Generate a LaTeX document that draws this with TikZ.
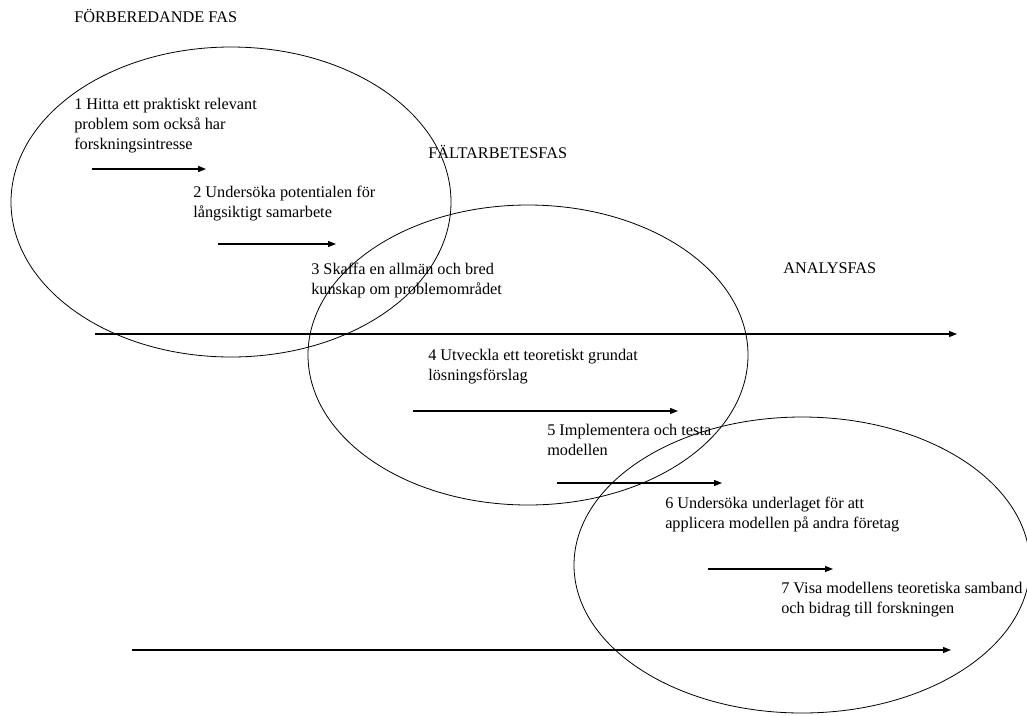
\documentclass[tikz,border=0pt]{standalone}
\usepackage{fontspec}
\setmainfont{Liberation Serif}
\usetikzlibrary{arrows.meta}
\begin{document}
\begin{tikzpicture}[x=0.75pt,y=-0.75pt,
  phase/.style={draw=black, line width=0.6pt},
  lbl/.style={anchor=base west, inner sep=0pt, align=left, font=\fontsize{12.2}{15}\selectfont},
  flow/.style={line width=0.9pt, -{Triangle[length=6pt,width=4.5pt]}}]
\useasboundingbox (0,0) rectangle (1027,715);
% phases
\draw[phase] (231,202) ellipse [x radius=220, y radius=155];
\draw[phase] (528,355) ellipse [x radius=220, y radius=150];
\draw[phase] (802,565) ellipse [x radius=228, y radius=148];
% titles
\node[lbl] (t1) at (74,22) {FÖRBEREDANDE FAS};
\node[lbl] (t2) at (428,158) {FÄLTARBETESFAS};
\node[lbl] (t3) at (783,273) {ANALYSFAS};
% steps (anchor at baseline of last line)
\node[lbl] (s1) at (74,149) {1 Hitta ett praktiskt relevant\\problem som också har\\forskningsintresse};
\node[lbl] (s2) at (193,217) {2 Undersöka potentialen för\\långsiktigt samarbete};
\node[lbl] (s3) at (311,294) {3 Skaffa en allmän och bred\\kunskap om problemområdet};
\node[lbl] (s4) at (428,380) {4 Utveckla ett teoretiskt grundat\\lösningsförslag};
\node[lbl] (s5) at (547,455) {5 Implementera och testa\\modellen};
\node[lbl] (s6) at (665,528) {6 Undersöka underlaget för att\\applicera modellen på andra företag};
\node[lbl] (s7) at (781,613) {7 Visa modellens teoretiska samband\\och bidrag till forskningen};
% arrows
\coordinate (a1s) at (92,169);  \coordinate (a1e) at (206,169);
\coordinate (a2s) at (218,244); \coordinate (a2e) at (336,244);
\coordinate (a3s) at (413,411); \coordinate (a3e) at (678,411);
\coordinate (a4s) at (557,483); \coordinate (a4e) at (722,483);
\coordinate (a5s) at (708,569); \coordinate (a5e) at (833,569);
\coordinate (l1s) at (95,334);  \coordinate (l1e) at (957,334);
\coordinate (l2s) at (132,650); \coordinate (l2e) at (951,650);
\draw[flow] (a1s) -- (a1e);
\draw[flow] (a2s) -- (a2e);
\draw[flow] (a3s) -- (a3e);
\draw[flow] (a4s) -- (a4e);
\draw[flow] (a5s) -- (a5e);
\draw[flow] (l1s) -- (l1e);
\draw[flow] (l2s) -- (l2e);
\end{tikzpicture}
\end{document}
